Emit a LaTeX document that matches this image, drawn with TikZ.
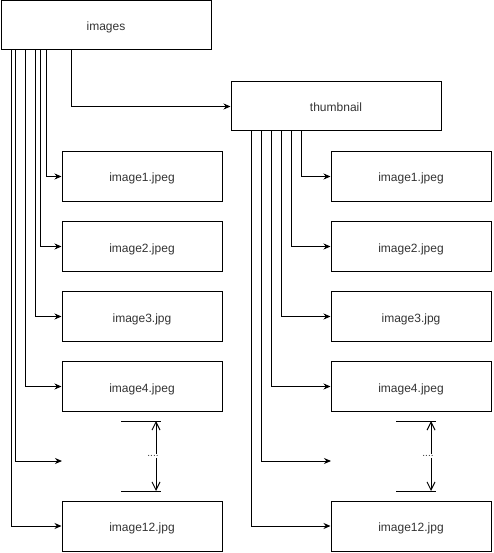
\documentclass[tikz,border=0pt]{standalone}
\usepackage{fontspec}
\setmainfont{Liberation Sans}
\usetikzlibrary{arrows.meta}
\definecolor{txt}{HTML}{333333}
\begin{document}
\begin{tikzpicture}[x=1pt,y=-1pt,
  box/.style={draw=black,line width=1pt,minimum width=160pt,minimum height=50pt,inner sep=0pt,text height=11pt,text depth=0pt,font=\fontsize{12pt}{14pt}\selectfont,text=txt},
  bigbox/.style={box,minimum width=210pt,minimum height=49pt},
  arr/.style={draw=black,line width=1pt,-{Stealth[length=7pt,width=6pt]}},
  plain/.style={draw=black,line width=1pt},
  dblarr/.style={draw=black,line width=1pt,{Straight Barb[length=8pt,width=8pt]}-{Straight Barb[length=8pt,width=8pt]}},
  dots/.style={fill=white,inner sep=1pt,font=\fontsize{10pt}{12pt}\selectfont,text=txt}]
\useasboundingbox (0,0) rectangle (493,553);
% boxes
\node[bigbox] (images) at (106,25.5) {images};
\node[bigbox] (thumb) at (336,106.5) {thumbnail};
\node[box] (l1) at (142,176.5) {image1.jpeg};
\node[box] (l2) at (142,246.5) {image2.jpeg};
\node[box] (l3) at (142,316.5) {image3.jpg};
\node[box] (l4) at (142,386.5) {image4.jpeg};
\node[box] (l12) at (142,526) {image12.jpg};
\node[box] (r1) at (411,176.5) {image1.jpeg};
\node[box] (r2) at (411,246.5) {image2.jpeg};
\node[box] (r3) at (411,316.5) {image3.jpg};
\node[box] (r4) at (411,386.5) {image4.jpeg};
\node[box] (r12) at (411,526) {image12.jpg};
\coordinate (ldots) at (62,461);
\coordinate (rdots) at (331,461);
% ellipsis markers
\coordinate (lta) at (121,421); \coordinate (ltb) at (161,421);
\coordinate (lba) at (121,491); \coordinate (lbb) at (161,491);
\coordinate (ltv) at (156,421); \coordinate (lbv) at (156,491);
\coordinate (rta) at (396,421); \coordinate (rtb) at (436,421);
\coordinate (rba) at (396,491); \coordinate (rbb) at (436,491);
\coordinate (rtv) at (431,421); \coordinate (rbv) at (431,491);
\draw[plain] (lta) -- (ltb);
\draw[plain] (lba) -- (lbb);
\draw[plain] (rta) -- (rtb);
\draw[plain] (rba) -- (rbb);
\draw[dblarr] (ltv) -- node[dots,xshift=-3pt] (ldl) {....} (lbv);
\draw[dblarr] (rtv) -- node[dots,xshift=-3pt] (rdl) {....} (rbv);
% connectors from images
\draw[arr] (images.south west) ++(71,0) |- (thumb);
\draw[arr] (images.south west) ++(46,0) |- (l1);
\draw[arr] (images.south west) ++(40,0) |- (l2);
\draw[arr] (images.south west) ++(35,0) |- (l3);
\draw[arr] (images.south west) ++(25,0) |- (l4);
\draw[arr] (images.south west) ++(15,0) |- (ldots);
\draw[arr] (images.south west) ++(11,0) |- (l12);
% connectors from thumbnail
\draw[arr] (thumb.south west) ++(71,0) |- (r1);
\draw[arr] (thumb.south west) ++(61,0) |- (r2);
\draw[arr] (thumb.south west) ++(51,0) |- (r3);
\draw[arr] (thumb.south west) ++(41,0) |- (r4);
\draw[arr] (thumb.south west) ++(31,0) |- (rdots);
\draw[arr] (thumb.south west) ++(21,0) |- (r12);
\end{tikzpicture}
\end{document}
